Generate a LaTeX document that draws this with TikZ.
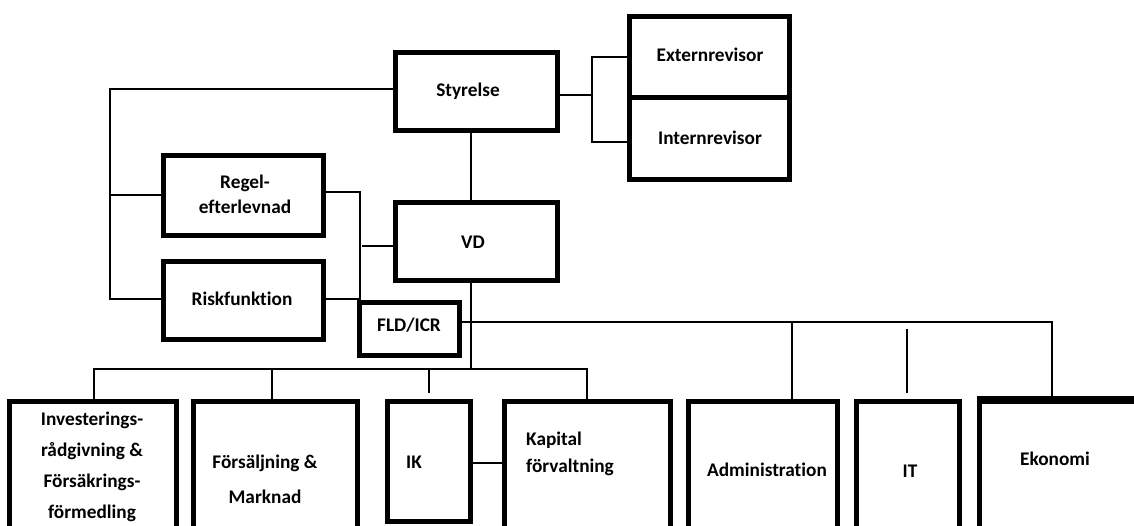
\documentclass[tikz,border=0pt]{standalone}
\usepackage{fontspec}
\setmainfont{Carlito}[Ligatures=NoCommon]
\begin{document}
\begin{tikzpicture}[x=1pt,y=-1pt,
  box/.style={draw, line width=5pt, inner sep=0pt},
  conn/.style={line width=1.8pt},
  lbl/.style={inner sep=0pt, text height=12.4pt, text depth=0pt, font=\fontsize{19.3}{25}\selectfont\bfseries},
  mlbl/.style={inner sep=0pt, anchor=base, align=center, font=\fontsize{19.3}{#1}\selectfont\bfseries},
]
\useasboundingbox (0,0) rectangle (1134,525);
\clip (0,0) rectangle (1134,525);

% boxes
\node[box, minimum width=162pt, minimum height=78pt] (styr) at (476.5,91.5) {};
\node[box, minimum width=160pt, minimum height=81pt] (ext) at (709.5,57) {};
\node[box, minimum width=160pt, minimum height=82pt] (int) at (709.5,138.5) {};
\node[box, minimum width=160pt, minimum height=80pt] (regel) at (243.5,195.5) {};
\node[box, minimum width=160pt, minimum height=78pt] (risk) at (243.5,300.5) {};
\node[box, minimum width=162pt, minimum height=78pt] (vd) at (476.5,241.5) {};
\node[box, minimum width=100pt, minimum height=53pt] (fld) at (409.5,329) {};
\node[box, minimum width=167pt, minimum height=156pt] (inv) at (93,479.5) {};
\node[box, minimum width=164pt, minimum height=156pt] (fors) at (275.5,479.5) {};
\node[box, minimum width=83pt, minimum height=120pt] (ik) at (429,461.5) {};
\node[box, minimum width=166pt, minimum height=156pt] (kap) at (587.5,479.5) {};
\node[box, minimum width=149pt, minimum height=156pt] (adm) at (763,479.5) {};
\node[box, minimum width=103pt, minimum height=156pt] (it) at (908,479.5) {};
\node[box, minimum width=163pt, minimum height=156pt] (eko) at (1061,479.5) {};
\draw[line width=7pt] (eko.north west) -- (eko.north east);

% labels
\node[lbl] (tstyr) at (468,90) {Styrelse};
\node[lbl] (text) at (710,55) {Externrevisor};
\node[lbl] (tint) at (710,138) {Internrevisor};
\node[mlbl=25] (tregel) at (245,213) {Regel-\\efterlevnad};
\node[lbl] (tvd) at (473,242) {VD};
\node[lbl] (trisk) at (242,299) {Riskfunktion};
\node[lbl] (tfld) at (409,325) {FLD/ICR};
\node[mlbl=30.7] (tinv) at (92,518) {Investerings-\\rådgivning \&\\Försäkrings-\\förmedling};
\node[mlbl=35] (tfors) at (265,503) {Försäljning \&\\Marknad};
\node[lbl] (tik) at (414,462) {IK};
\node[mlbl=27, align=left, anchor=base west] (tkap) at (526,472) {Kapital\\förvaltning};
\node[lbl] (tadm) at (767,470) {Administration};
\node[lbl] (tit) at (910,471) {IT};
\node[lbl] (teko) at (1055,459) {Ekonomi};

% connectors: Styrelse to control functions
\coordinate (L1) at (110,89);
\coordinate (L2) at (110,195);
\coordinate (L3) at (110,299);
\draw[conn] (styr.west |- L1) -- (L1) -- (L3) -- (risk.west |- L3);
\draw[conn] (L2) -- (regel.west |- L2);

% auditors bracket
\coordinate (B0) at (592,95);
\coordinate (B1) at (592,57);
\coordinate (B2) at (592,142);
\draw[conn] (styr.east |- B0) -- (B0);
\draw[conn] (ext.west |- B1) -- (B1) -- (B2) -- (int.west |- B2);

% Styrelse - VD - bottom
\coordinate (V1) at (471,369);
\draw[conn] (styr.south -| V1) -- (vd.north -| V1);
\draw[conn] (vd.south -| V1) -- (V1);

% Regel / Risk / FLD
\coordinate (R1) at (360,192);
\coordinate (R2) at (360,299);
\coordinate (R3) at (362,246);
\draw[conn] (regel.east |- R1) -- (R1) -- (fld.north -| R1);
\draw[conn] (risk.east |- R2) -- (R2);
\draw[conn] (R3) -- (vd.west |- R3);

% FLD line to right
\coordinate (F1) at (1052,322);
\coordinate (A1) at (792,322);
\draw[conn] (fld.east |- F1) -- (F1) -- (eko.north -| F1);
\draw[conn] (A1) -- (adm.north -| A1);
\coordinate (IT1) at (907,329);
\coordinate (IT2) at (907,393);
\draw[conn] (IT1) -- (IT2);

% bottom left bar
\coordinate (H0) at (94,369);
\coordinate (H1) at (587,369);
\coordinate (P1) at (272,369);
\coordinate (K2) at (429,393);
\coordinate (K3) at (480,463);
\draw[conn] (inv.north -| H0) -- (H0) -- (H1) -- (kap.north -| H1);
\draw[conn] (P1) -- (fors.north -| P1);
\draw[conn] (ik.north |- H0) -- (K2);
\draw[conn] (ik.east |- K3) -- (kap.west |- K3);
\end{tikzpicture}
\end{document}
